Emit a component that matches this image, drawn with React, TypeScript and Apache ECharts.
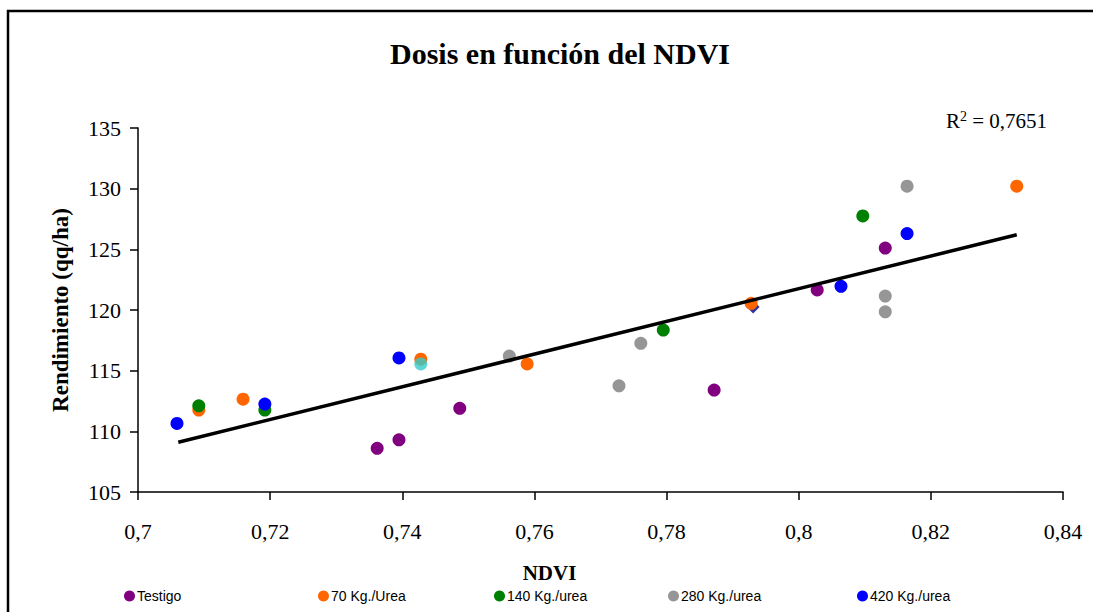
import React, { useEffect, useRef } from "react";
import * as echarts from "echarts";

const testigo: [number, number][] = [
  [0.7362, 108.6], [0.7395, 109.3], [0.7487, 111.9], [0.7872, 113.4], [0.8028, 121.65], [0.8131, 125.1],
];
const urea70: [number, number][] = [
  [0.7092, 111.75], [0.7159, 112.65], [0.7428, 115.95], [0.7589, 115.55], [0.7928, 120.55], [0.833, 130.2],
];
const urea140: [number, number][] = [
  [0.7092, 112.1], [0.7192, 111.75], [0.7795, 118.35], [0.8097, 127.75],
];
const urea280: [number, number][] = [
  [0.7562, 116.2], [0.7728, 113.75], [0.7761, 117.25], [0.8131, 121.15], [0.8131, 119.85], [0.8164, 130.2],
];
const urea420: [number, number][] = [
  [0.7059, 110.65], [0.7192, 112.25], [0.7395, 116.05], [0.8064, 121.95], [0.8164, 126.3],
];
const extraCyan: [number, number][] = [[0.7428, 115.55]];
const extraNavy: [number, number][] = [[0.7931, 120.25]];
const trendLine: [number, number][] = [[0.7061, 109.1], [0.833, 126.2]];

const legendNames = ["Testigo", "70 Kg./Urea", "140 Kg./urea", "280 Kg./urea", "420 Kg./urea"];
const legendColors = ["#800080", "#FF6600", "#008000", "#969696", "#0000FF"];
const legendLefts = [124, 318, 494, 668, 857];

const serif = "'Liberation Serif', 'Times New Roman', serif";
const sans = "'Liberation Sans', Arial, sans-serif";

export default function App() {
  const ref = useRef<HTMLDivElement>(null);
  useEffect(() => {
    document.body.style.margin = "0";
    const chart = echarts.init(ref.current!, null, { renderer: "svg" });
    const seriesData = [testigo, urea70, urea140, urea280, urea420];
    const scatterSeries = seriesData.map((d, i) => ({
      name: legendNames[i],
      type: "scatter",
      data: d,
      symbol: "circle",
      symbolSize: 13,
      itemStyle: { color: legendColors[i], opacity: 1 },
      z: 3 + i,
    }));
    chart.setOption({
      animation: false,
      backgroundColor: "#fff",
      title: {
        text: "Dosis en función del NDVI",
        left: 555,
        textAlign: "center",
        top: 33,
        textStyle: { fontFamily: serif, fontSize: 30, fontWeight: "bold", color: "#000" },
      },
      grid: { left: 138, right: 30, top: 128, bottom: 120 },
      xAxis: {
        type: "value",
        min: 0.7,
        max: 0.84,
        interval: 0.02,
        name: "NDVI",
        nameLocation: "middle",
        nameGap: 70,
        nameTextStyle: {
          fontFamily: serif, fontSize: 21, fontWeight: "bold", color: "#000",
          padding: [0, 102, 0, 0],
        },
        axisLine: { onZero: false, lineStyle: { color: "#000", width: 1.5 } },
        axisTick: { show: true, inside: false, length: 8, lineStyle: { color: "#000", width: 1.5 } },
        axisLabel: {
          fontFamily: serif,
          fontSize: 22,
          color: "#000",
          margin: 28,
          formatter: (v: number) => String(Math.round(v * 100) / 100).replace(".", ","),
        },
        splitLine: { show: false },
      },
      yAxis: {
        type: "value",
        min: 105,
        max: 135,
        interval: 5,
        name: "Rendimiento (qq/ha)",
        nameLocation: "middle",
        nameGap: 66,
        nameTextStyle: { fontFamily: serif, fontSize: 23, fontWeight: "bold", color: "#000" },
        axisLine: { show: true, lineStyle: { color: "#000", width: 1.5 } },
        axisTick: { show: true, inside: false, length: 8, lineStyle: { color: "#000", width: 1.5 } },
        axisLabel: { fontFamily: serif, fontSize: 22, color: "#000", margin: 17 },
        splitLine: { show: false },
      },
      legend: legendNames.map((n, i) => ({
        data: [n],
        left: legendLefts[i],
        top: 589,
        icon: "circle",
        itemWidth: 11,
        itemHeight: 13,
        itemGap: 0,
        textStyle: { fontFamily: sans, fontSize: 14, color: "#000", padding: [0, 0, 0, -3] },
        padding: 0,
      })),
      graphic: [
        {
          type: "rect",
          shape: { x: 8, y: 11, width: 1200, height: 800 },
          style: { fill: "none", stroke: "#000", lineWidth: 2.5 },
          silent: true,
          z: -10,
        },
        {
          type: "text",
          right: 46,
          top: 109,
          style: {
            text: "R{sup|2} = 0,7651",
            font: `21px ${serif}`,
            fill: "#000",
            rich: {
              sup: { fontFamily: serif, fontSize: 14, verticalAlign: "top", padding: [0, 0, 10, 0] },
            },
          },
        },
      ],
      series: [
        {
          name: "extraNavy",
          type: "scatter",
          data: extraNavy,
          symbol: "diamond",
          symbolSize: 13,
          itemStyle: { color: "#000080" },
          z: 2,
        },
        ...scatterSeries,
        {
          name: "extraCyan",
          type: "scatter",
          data: extraCyan,
          symbol: "circle",
          symbolSize: 13,
          itemStyle: { color: "#33CCCC" },
          z: 9,
        },
        {
          name: "trend",
          type: "line",
          data: trendLine,
          symbol: "none",
          lineStyle: { color: "#000", width: 3.5 },
          z: 10,
        },
      ],
    });
    return () => chart.dispose();
  }, []);
  return <div ref={ref} style={{ width: 1093, height: 612 }} />;
}
